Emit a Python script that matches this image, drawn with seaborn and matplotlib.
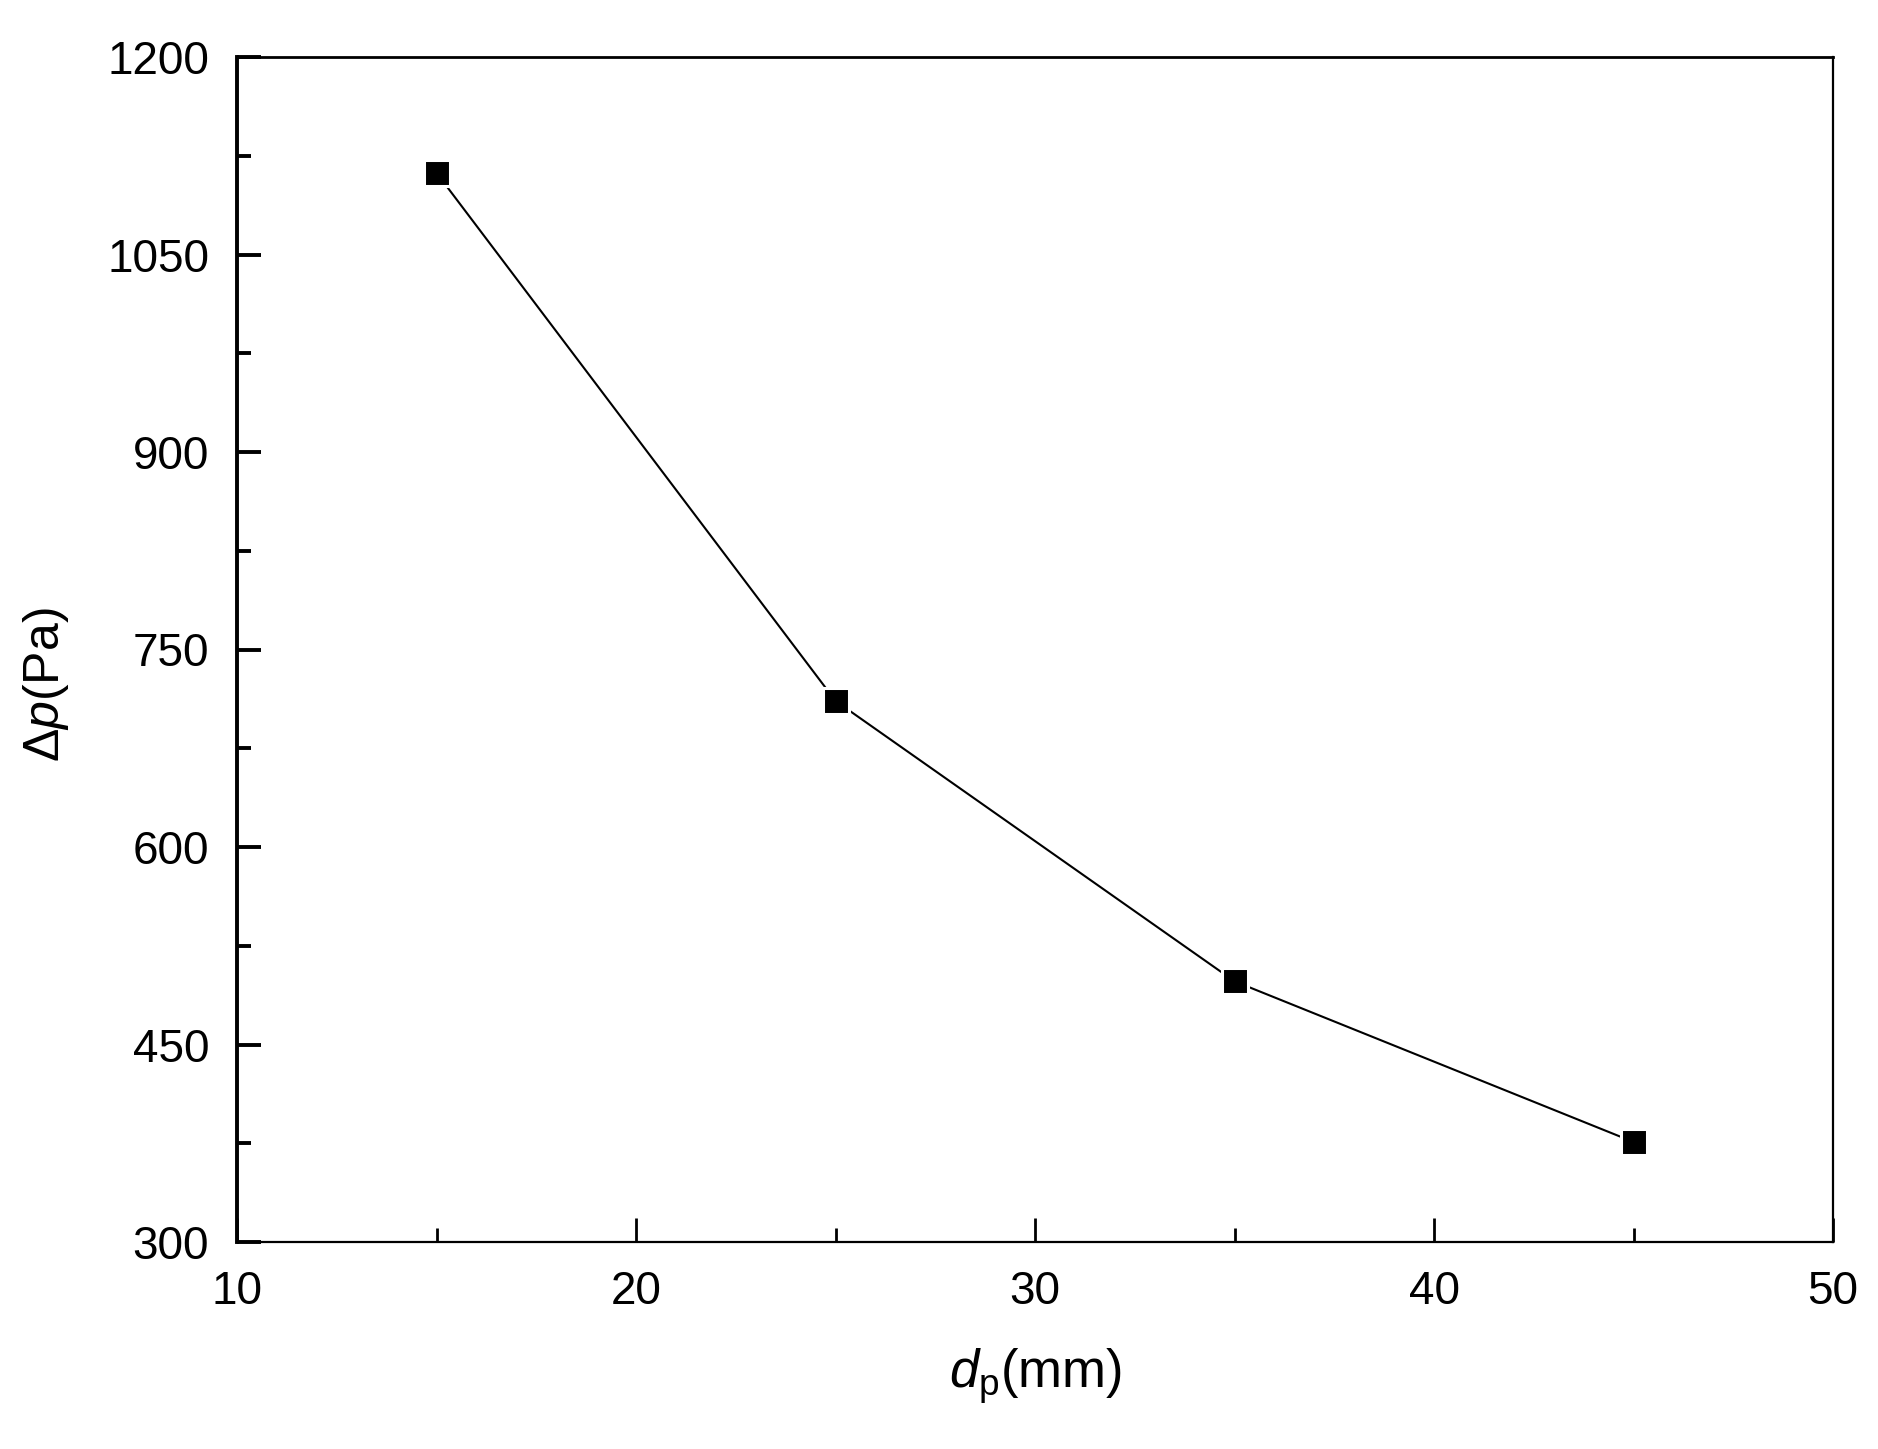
import numpy as np
import pandas as pd
import matplotlib
matplotlib.use("Agg")
import matplotlib.pyplot as plt
from matplotlib.ticker import MultipleLocator
import seaborn as sns

# data
dp_mm = [15, 25, 35, 45]
delta_p = [1112, 711, 498, 376]

sns.set_theme(style="ticks")
plt.rcParams['font.family'] = ['Liberation Sans', 'DejaVu Sans']
plt.rcParams['mathtext.fontset'] = 'custom'
plt.rcParams['mathtext.rm'] = 'Liberation Sans'
plt.rcParams['mathtext.it'] = 'Liberation Sans:italic'
plt.rcParams['text.color'] = 'black'
plt.rcParams['axes.labelcolor'] = 'black'
plt.rcParams['xtick.color'] = 'black'
plt.rcParams['ytick.color'] = 'black'

df = pd.DataFrame({'dp': dp_mm, 'dP': delta_p})

fig = plt.figure(figsize=(18.78, 14.49), dpi=100)
ax = fig.add_axes([237 / 1878, 1 - 1242 / 1449, (1833 - 237) / 1878, (1242 - 57) / 1449])

sns.lineplot(data=df, x='dp', y='dP', ax=ax, color='black', lw=1.5,
             marker='s', markersize=18.5, markerfacecolor='black',
             markeredgecolor='white', markeredgewidth=2.2)

ax.set_xlim(10, 50)
ax.set_ylim(300, 1200)
ax.xaxis.set_major_locator(MultipleLocator(10))
ax.xaxis.set_minor_locator(MultipleLocator(5))
ax.yaxis.set_major_locator(MultipleLocator(150))
ax.yaxis.set_minor_locator(MultipleLocator(75))

ax.tick_params(which='both', direction='in', top=False, right=False)
ax.tick_params(which='major', length=17.5, labelsize=33, pad=20)
ax.tick_params(which='minor', length=10)
ax.tick_params(axis='y', which='both', width=2.8)
ax.tick_params(axis='x', which='both', width=2)

for s in ax.spines.values():
    s.set_linewidth(1.6)
    s.set_color('black')
ax.spines['left'].set_linewidth(2.8)
ax.spines['top'].set_linewidth(2)

ax.set_xlabel(r'$d_\mathrm{p}$(mm)', fontsize=38)
ax.set_ylabel(r'$\Delta p$(Pa)', fontsize=36)
ax.xaxis.set_label_coords(0.5, -0.088)
ax.yaxis.set_label_coords(-0.104, 0.47)

fig.savefig('out.png', dpi=100, facecolor='white')
